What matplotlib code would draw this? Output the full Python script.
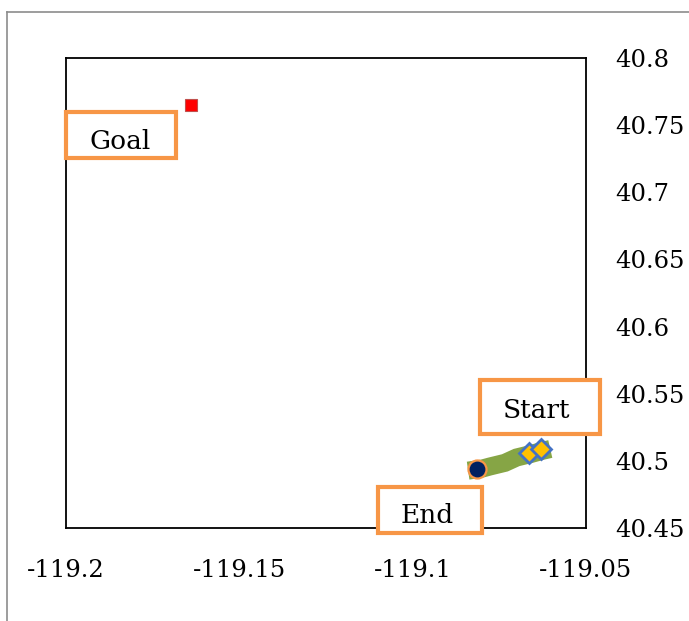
import matplotlib.pyplot as plt
from matplotlib.lines import Line2D
from matplotlib.patches import Rectangle

# vehicle track (lon, lat)
track_lon = [-119.0840, -119.0800, -119.0777, -119.0734, -119.0700, -119.0660, -119.0625, -119.0603]
track_lat = [40.4927, 40.4942, 40.4958, 40.4985, 40.5025, 40.5050, 40.5075, 40.5088]

start_lon = [-119.0664, -119.0630]
start_lat = [40.5059, 40.5088]

end_lon = [-119.0814]
end_lat = [40.4939]

goal_lon = [-119.164]
goal_lat = [40.765]

x_ticks = [-119.2, -119.15, -119.1, -119.05]
x_labels = ["-119.2", "-119.15", "-119.1", "-119.05"]
y_ticks = [40.45, 40.5, 40.55, 40.6, 40.65, 40.7, 40.75, 40.8]
y_labels = ["40.45", "40.5", "40.55", "40.6", "40.65", "40.7", "40.75", "40.8"]

# (label, box x0, box y0, box x1, box y1, text x, text y) in axes fraction
boxes = [
    ("Goal", 0.0, 0.787, 0.2115, 0.885, 0.104, 0.823),
    ("Start", 0.796, 0.200, 1.027, 0.315, 0.904, 0.251),
    ("End", 0.600, -0.011, 0.800, 0.087, 0.694, 0.026),
]

plt.rcParams['font.family'] = ['DejaVu Serif']

fig = plt.figure(figsize=(6.89, 6.21), dpi=100)
ax = fig.add_axes([0.0958, 0.1498, 0.7547, 0.7568])

ax.plot(track_lon, track_lat, color='#86a545', linewidth=13, solid_capstyle='butt',
        solid_joinstyle='miter', zorder=2)
ax.plot(start_lon, start_lat, linestyle='none', marker='D', markersize=10,
        markerfacecolor='#ffc000', markeredgecolor='#4472c4', markeredgewidth=2, zorder=3)
ax.plot(end_lon, end_lat, linestyle='none', marker='o', markersize=13,
        markerfacecolor='#002060', markeredgecolor='#f79646', markeredgewidth=1.6, zorder=4)
ax.plot(goal_lon, goal_lat, linestyle='none', marker='s', markersize=8.5,
        markerfacecolor='#ff0000', markeredgecolor='#c0504d', markeredgewidth=0.8, zorder=3)

ax.set_xlim(-119.2, -119.05)
ax.set_ylim(40.45, 40.8)
ax.set_xticks(x_ticks)
ax.set_xticklabels(x_labels)
ax.set_yticks(y_ticks)
ax.set_yticklabels(y_labels)
ax.yaxis.tick_right()
ax.tick_params(axis='both', length=0, labelsize=17.5)
ax.tick_params(axis='x', pad=22)
ax.tick_params(axis='y', pad=21)
for s in ax.spines.values():
    s.set_linewidth(1.3)
    s.set_color('black')

for label, x0, y0, x1, y1, tx, ty in boxes:
    ax.add_patch(Rectangle((x0, y0), x1 - x0, y1 - y0, transform=ax.transAxes,
                           facecolor='white', edgecolor='#f79646', linewidth=3,
                           clip_on=False, zorder=5))
    ax.text(tx, ty, label, transform=ax.transAxes, ha='center', va='center',
            fontsize=19, zorder=6)

# outer frame of the chart area
fig.add_artist(Line2D([0.0102, 0.0102], [0.0, 0.9807], color='#8c8c8c', linewidth=1.2))
fig.add_artist(Line2D([0.0102, 1.0], [0.9807, 0.9807], color='#8c8c8c', linewidth=1.2))

fig.savefig('out.png', dpi=100)
